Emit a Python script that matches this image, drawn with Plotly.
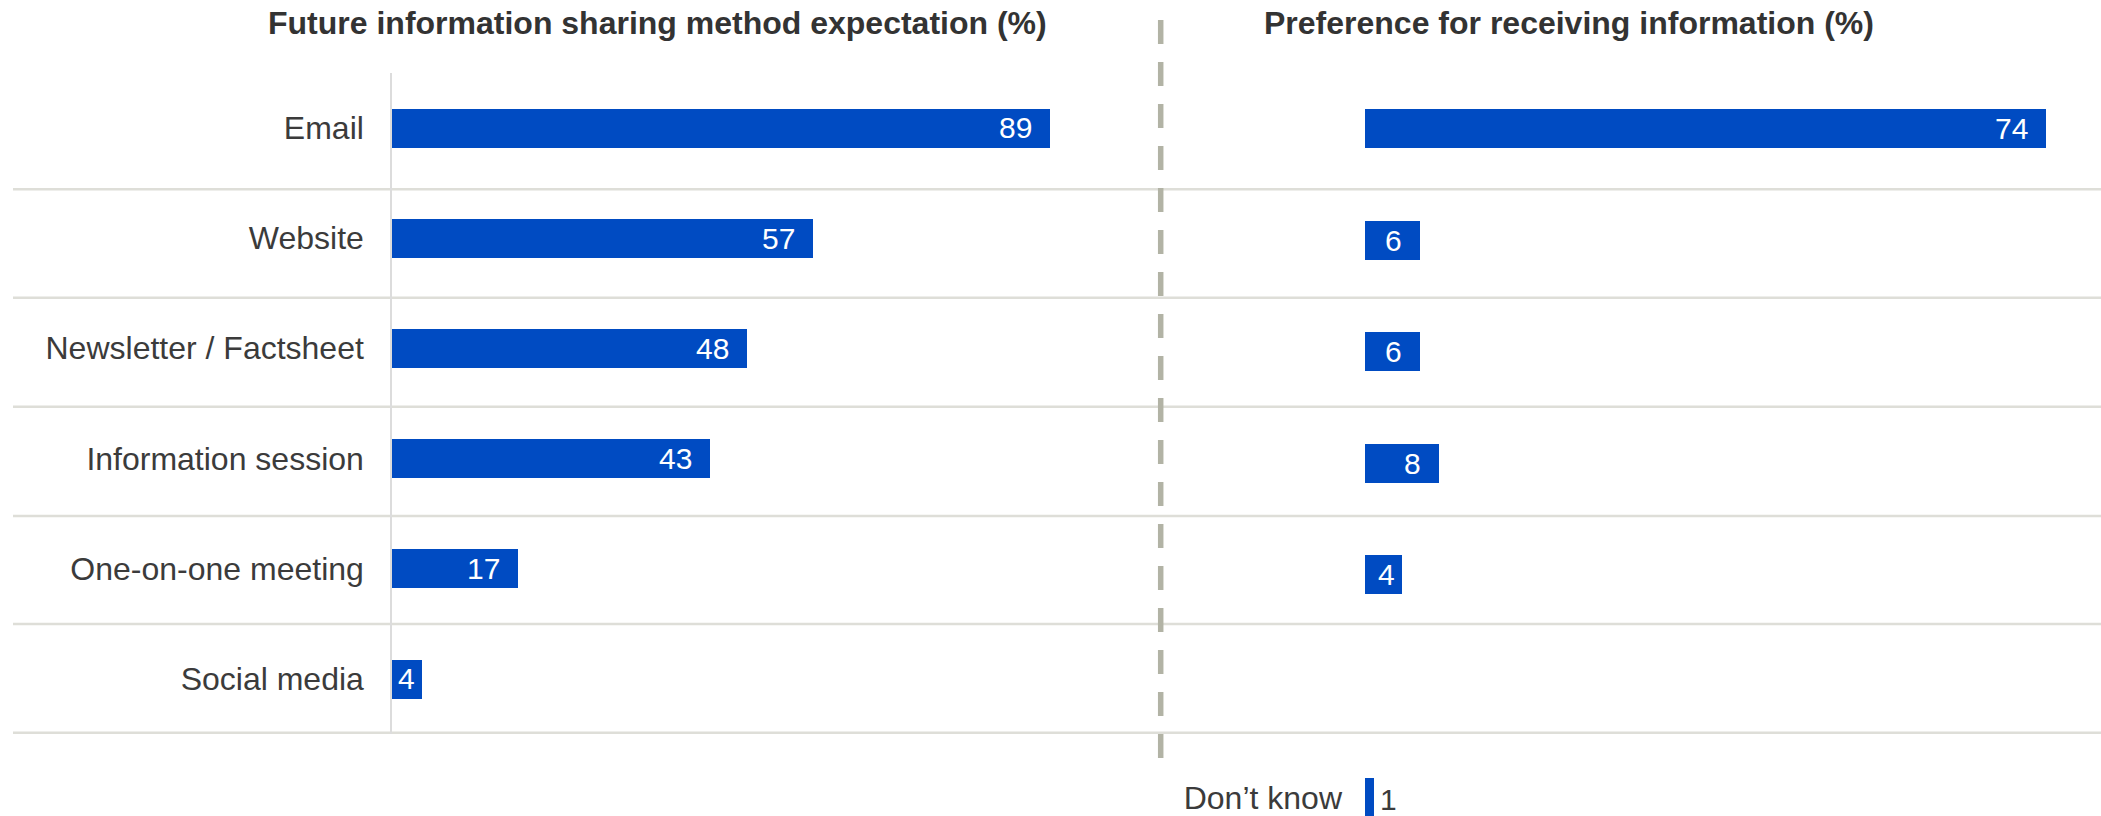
import plotly.graph_objects as go

# Survey results (%)
categories = ["Email", "Website", "Newsletter / Factsheet", "Information session",
              "One-on-one meeting", "Social media"]
expectation = [89, 57, 48, 43, 17, 4]

pref_categories = categories + ["Don\u2019t know"]
preference = [74, 6, 6, 8, 4, None, 1]

left_title = "Future information sharing method expectation (%)"
right_title = "Preference for receiving information (%)"

W, H = 2101, 816
BLUE = "#004bc2"
TEXT = "#3b3b3b"
FONT = "Liberation Sans, Arial, sans-serif"


def px_x(p):
    return p / W


def px_y(p):
    return 1 - p / H


# axis geometry (pixels)
L_X0, L_RANGE, L_PX = 392, 100, 7.39
R_X0, R_RANGE = 1365, 80
R_PX = (W - R_X0) / R_RANGE
L_TOP, L_BOT = 72.7, 733.9
R_TOP, R_STEP = 72.95, 111.5
r_range_bottom = -0.5 + (H - R_TOP) / R_STEP

fig = go.Figure()

fig.add_trace(go.Bar(
    x=expectation, y=categories, orientation="h", width=0.354,
    marker=dict(color=BLUE, line=dict(width=0)),
    xaxis="x", yaxis="y", hoverinfo="x+y",
))
fig.add_trace(go.Bar(
    x=preference, y=pref_categories, orientation="h", width=0.352,
    marker=dict(color=BLUE, line=dict(width=0)),
    xaxis="x2", yaxis="y2", hoverinfo="x+y",
))

annotations = []
LABEL_SIZE = 30
DIGIT_W = 0.556 * LABEL_SIZE


def inside_label(value, cat, xref, yref, px_per_unit):
    bar_px = value * px_per_unit
    text_px = len(str(value)) * DIGIT_W
    pad = 16 if bar_px - text_px >= 23 else 4.5
    return dict(x=value, y=cat, xref=xref, yref=yref, text=str(value),
                showarrow=False, xanchor="right", yanchor="middle",
                xshift=-pad, font=dict(family=FONT, size=LABEL_SIZE, color="white"))


for v, c in zip(expectation, categories):
    annotations.append(inside_label(v, c, "x", "y", L_PX))

for v, c in zip(preference, pref_categories):
    if v is None:
        continue
    if v * R_PX < 20:
        annotations.append(dict(x=v, y=c, xref="x2", yref="y2", text=str(v),
                                showarrow=False, xanchor="left", yanchor="middle",
                                xshift=4, yshift=-2,
                                font=dict(family=FONT, size=LABEL_SIZE, color=TEXT)))
    else:
        annotations.append(inside_label(v, c, "x2", "y2", R_PX))

for title, cx in [(left_title, 657.5), (right_title, 1569)]:
    annotations.append(dict(x=px_x(cx), y=px_y(23), xref="paper", yref="paper",
                            text="<b>" + title + "</b>", showarrow=False,
                            xanchor="center", yanchor="middle",
                            font=dict(family=FONT, size=32, color="#333333")))

# table separators across both panels
row_lines = [189.3, 297.7, 406.7, 516, 624, 732.7]
shapes = [dict(type="line", xref="paper", yref="paper",
               x0=px_x(13), x1=1, y0=px_y(p), y1=px_y(p),
               line=dict(color="#deded8", width=2.5), layer="below")
          for p in row_lines]
# panel divider
shapes.append(dict(type="line", xref="paper", yref="paper",
                   x0=px_x(1160.7), x1=px_x(1160.7), y0=px_y(20), y1=px_y(758),
                   line=dict(color="#b2b3a5", width=5.5, dash="24px,18px"),
                   layer="above"))

fig.update_layout(
    width=W, height=H,
    margin=dict(l=0, r=0, t=0, b=0),
    paper_bgcolor="white", plot_bgcolor="rgba(0,0,0,0)",
    showlegend=False, bargap=0,
    font=dict(family=FONT, color=TEXT),
    xaxis=dict(domain=[px_x(L_X0), px_x(L_X0 + L_PX * L_RANGE)], range=[0, L_RANGE],
               visible=False, fixedrange=True),
    yaxis=dict(domain=[px_y(L_BOT), px_y(L_TOP)], range=[5.5, -0.5],
               type="category", categoryorder="array", categoryarray=categories,
               showgrid=False, zeroline=False, ticks="",
               showline=True, linecolor="#dcdcdc", linewidth=1.5,
               ticklabelstandoff=20,
               tickfont=dict(family=FONT, size=32, color=TEXT), fixedrange=True),
    xaxis2=dict(domain=[px_x(R_X0), 1], range=[0, R_RANGE], anchor="y2",
                visible=False, fixedrange=True),
    yaxis2=dict(domain=[0, px_y(R_TOP)], range=[r_range_bottom, -0.5], anchor="x2",
                type="category", categoryorder="array", categoryarray=pref_categories,
                tickmode="array", tickvals=pref_categories,
                ticktext=["" for _ in categories] + [pref_categories[-1]],
                showgrid=False, zeroline=False, showline=False, ticks="",
                ticklabelstandoff=22,
                tickfont=dict(family=FONT, size=32, color=TEXT), fixedrange=True),
    annotations=annotations,
    shapes=shapes,
)

fig.write_html("out.html", config={"displayModeBar": False})
